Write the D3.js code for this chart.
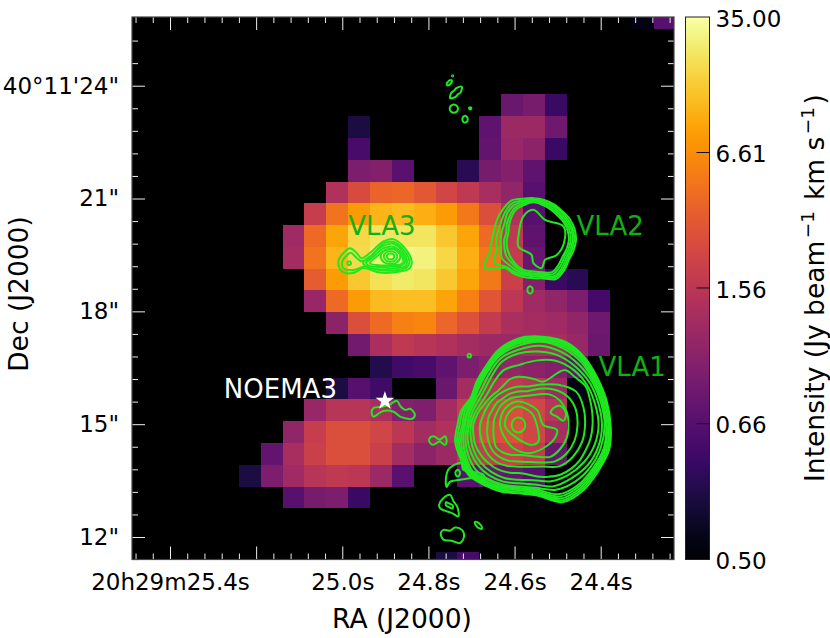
<!DOCTYPE html>
<html>
<head>
<meta charset="utf-8">
<script src="https://d3js.org/d3.v7.min.js"></script>
<style>
  body { margin: 0; background: #fff; }
  text { font-family: "DejaVu Sans", sans-serif; }
</style>
</head>
<body>
<div id="chart"></div>
<script>
// Moment map, Jy/beam km/s, per map row. Each row starts at the column in rowStart, 0 = below the colour floor
var row00 = [0.51, 0.66];
var row04 = [0.74, 0.80, 0.585];
var row05 = [0.54, 0, 0, 0, 0, 0, 0.69, 1.09, 1.09, 0.76];
var row06 = [0.62, 0, 0, 0, 0, 0, 0.70, 1.05, 0.94, 0.585];
var row07 = [0.83, 0.88, 0.67, 0, 0, 0.56, 0.80, 0.88, 0.69];
var row08 = [1.35, 2.36, 3.54, 3.76, 2.96, 2.12, 1.63, 1.24, 0.98, 0.66];
var row09 = [1.81, 4.52, 8.0, 11.1, 11.9, 10.4, 8.0, 4.81, 2.50, 1.35, 0.66];
var row10 = [1.14, 4.0, 9.13, 17.8, 21.8, 21.8, 21.8, 14.5, 9.13, 4.0, 1.63, 0.69];
var row11 = [1.19, 4.52, 11.1, 19.0, 24.9, 28.5, 26.7, 17.8, 10.4, 4.81, 1.72, 0.72];
var row12 = [3.14, 8.0, 14.5, 20.3, 23.3, 21.8, 14.5, 9.13, 4.81, 1.90, 0.88, 0.59, 0.56];
var row13 = [1.05, 4.0, 8.0, 11.9, 12.7, 12.7, 9.13, 5.47, 2.80, 1.56, 1.14, 0.98, 0.83, 0.61];
var row14 = [0.94, 2.50, 4.0, 5.47, 5.85, 3.76, 2.64, 1.72, 1.29, 1.19, 1.14, 0.98, 0.76];
var row15 = [0.78, 1.29, 1.63, 1.48, 1.35, 1.19, 1.09, 1.09, 1.24, 1.24, 1.05, 0.74];
var row16 = [0.55, 0.60, 0.62, 0.69, 0.83, 0.94, 1.01, 0.94, 0.88, 0.70];
var row17 = [0.54, 0.66, 0.60, 0, 0, 0.74, 1.19, 1.48, 1.63, 1.48, 1.14, 0.51];
var row18 = [1.05, 1.48, 1.48, 1.29, 0.88, 0.85, 1.19, 1.81, 2.12, 2.50, 2.12, 1.48];
var row19 = [0.98, 1.81, 2.50, 2.50, 2.12, 1.56, 1.19, 1.35, 1.81, 2.50, 2.64, 2.12, 1.24];
var row20 = [0.70, 1.24, 1.90, 2.50, 2.50, 1.90, 1.19, 0.94, 1.09, 1.48, 1.81, 2.0, 1.72, 0.74];
var row21 = [0.54, 0.83, 1.14, 1.48, 1.63, 1.56, 1.09, 0.67, 0, 0, 0.67, 0.74, 0.72, 0.66];
var row22 = [0.66, 0.80, 0.83, 0.585];
var row25 = [0.54, 0.62];
var mapRows = [row00, [], [], [], row04, row05, row06, row07, row08, row09, row10, row11, row12,
  row13, row14, row15, row16, row17, row18, row19, row20, row21, row22, [], [], row25];
var rowStart = [23, 0, 0, 0, 17, 10, 10, 10, 9, 8, 7, 7, 8, 8, 9, 10, 11, 9, 8, 7, 6, 5, 7, 0, 0, 14];

// Axis ticks
var raMajor = [25.4, 25.2, 25.0, 24.8, 24.6, 24.4];
var raLabels = ["20h29m25.4s", "", "25.0s", "24.8s", "24.6s", "24.4s"];
var decMajor = [24, 21, 18, 15, 12];
var decLabels = ["40\u00b011'24\"", "21\"", "18\"", "15\"", "12\""];
var colorTicks = [0.50, 0.66, 1.56, 6.61, 35.00];

// Contours around VLA1: radii in arcsec, evenly spaced in angle counter-clockwise from +x
var vla1Centre = [24.591, 14.98];
var vla1Ring1 = [2.45, 2.43, 2.44, 2.51, 2.54, 2.43, 2.30, 2.06, 1.77, 1.59, 1.46, 1.56, 1.62, 1.74, 1.78, 1.88, 1.84, 1.83, 1.82, 1.94, 2.37, 2.45, 2.45, 2.50];
var vla1Ring1b = [2.42, 2.40, 2.41, 2.48, 2.50, 2.39, 2.26, 2.03, 1.74, 1.56, 1.42, 1.52, 1.56, 1.69, 1.75, 1.84, 1.81, 1.79, 1.78, 1.90, 2.32, 2.40, 2.41, 2.47];
var vla1Ring2 = [2.39, 2.37, 2.37, 2.45, 2.46, 2.35, 2.22, 1.99, 1.70, 1.52, 1.38, 1.47, 1.49, 1.64, 1.71, 1.80, 1.77, 1.75, 1.73, 1.86, 2.26, 2.35, 2.37, 2.43];
var vla1Ring2b = [2.35, 2.33, 2.33, 2.41, 2.41, 2.32, 2.17, 1.95, 1.67, 1.49, 1.37, 1.41, 1.45, 1.58, 1.67, 1.77, 1.73, 1.71, 1.69, 1.82, 2.20, 2.30, 2.33, 2.39];
var vla1Ring3 = [2.33, 2.31, 2.31, 2.36, 2.36, 2.29, 2.11, 1.91, 1.64, 1.46, 1.36, 1.38, 1.42, 1.52, 1.62, 1.73, 1.68, 1.67, 1.68, 1.77, 2.13, 2.25, 2.29, 2.35];
var vla1Ring4 = [2.29, 2.27, 2.27, 2.27, 2.25, 2.18, 2.00, 1.83, 1.56, 1.37, 1.31, 1.33, 1.36, 1.46, 1.55, 1.64, 1.65, 1.64, 1.64, 1.73, 1.99, 2.13, 2.22, 2.27];
var vla1Ring5 = [2.22, 2.20, 2.20, 2.17, 2.13, 2.02, 1.90, 1.73, 1.46, 1.29, 1.24, 1.27, 1.31, 1.40, 1.46, 1.52, 1.55, 1.56, 1.55, 1.64, 1.88, 2.00, 2.13, 2.20];
var vla1Ring6 = [2.13, 2.11, 2.11, 2.07, 1.97, 1.77, 1.59, 1.51, 1.31, 1.17, 1.15, 1.20, 1.26, 1.31, 1.37, 1.42, 1.44, 1.46, 1.46, 1.52, 1.73, 1.88, 2.00, 2.09];
var vla1Ring7 = [1.97, 1.99, 2.02, 2.06, 1.97, 1.91, 1.33, 1.29, 1.28, 1.28, 1.24, 1.13, 1.06, 1.05, 1.05, 1.06, 1.11, 1.15, 1.20, 1.22, 1.25, 1.27, 1.28, 1.29, 1.30, 1.30, 1.29, 1.28, 1.33, 1.46, 1.59, 1.73, 1.82, 1.88, 1.91, 1.95];
var vla1Ring8 = [1.77, 1.79, 1.77, 1.51, 1.24, 1.06, 1.02, 0.99, 0.97, 0.96, 0.96, 0.97, 1.02, 1.05, 1.08, 1.13, 1.15, 1.13, 1.11, 1.15, 1.28, 1.55, 1.68, 1.75];
var vla1Ring9 = [1.57, 1.58, 1.51, 1.33, 1.11, 0.93, 0.89, 0.86, 0.82, 0.82, 0.80, 0.82, 0.82, 0.86, 0.91, 0.97, 0.99, 0.99, 0.97, 1.02, 1.15, 1.37, 1.49, 1.55];
var vla1Ring10 = [1.33, 1.33, 1.28, 1.15, 0.93, 0.80, 0.75, 0.74, 0.71, 0.69, 0.66, 0.66, 0.66, 0.69, 0.75, 0.84, 0.84, 0.82, 0.80, 0.84, 0.97, 1.20, 1.28, 1.33];
var vla1Peak = [0.18, 0.19, 0.20, 0.19, 0.18, 0.19, 0.20, 0.19];

// Contours around VLA2
var vla2Centre = [24.556, 19.90];
var vla2Ring1 = [1.13, 1.13, 1.11, 1.08, 1.09, 1.10, 1.11, 1.13, 1.20, 1.15, 1.11, 1.08, 1.11, 1.20, 1.51, 1.06, 1.04, 1.02, 1.02, 1.06, 1.20, 1.15, 1.08, 1.10];
var vla2Ring2 = [1.08, 1.08, 1.06, 1.05, 1.05, 1.06, 1.08, 1.08, 1.13, 1.06, 0.99, 0.97, 0.99, 1.02, 1.20, 1.02, 0.99, 0.97, 0.97, 1.02, 1.15, 1.11, 1.04, 1.05];
var vla2Ring3 = [1.04, 1.04, 1.02, 1.00, 1.02, 1.03, 1.05, 1.05, 1.06, 0.99, 0.89, 0.87, 0.87, 0.89, 0.97, 0.93, 0.93, 0.93, 0.93, 0.97, 1.11, 1.06, 0.99, 1.01];
var vla2Ring4 = [0.99, 0.99, 0.97, 0.96, 0.97, 0.99, 1.03, 1.00, 0.99, 0.90, 0.82, 0.75, 0.78, 0.80, 0.84, 0.84, 0.87, 0.89, 0.89, 0.93, 1.05, 1.00, 0.94, 0.96];
var vla2Ring5 = [0.94, 0.94, 0.93, 0.91, 0.93, 0.96, 1.00, 0.96, 0.93, 0.84, 0.75, 0.69, 0.71, 0.73, 0.75, 0.78, 0.82, 0.84, 0.84, 0.89, 0.99, 0.94, 0.89, 0.91];

// Peak of VLA3
var vla3PeakCentre = [24.888, 19.46];
var vla3Peak1 = [0.10, 0.09, 0.08, 0.09, 0.10, 0.09, 0.08, 0.09];
var vla3Peak2 = [0.18, 0.16, 0.14, 0.16, 0.18, 0.16, 0.14, 0.16];
var vla3Peak3 = [0.26, 0.23, 0.20, 0.23, 0.26, 0.23, 0.20, 0.23];

// Small isolated contours: [ra, dec] then radii
var spotA = [[24.7515, 24.08], [0.06, 0.09, 0.06, 0.04, 0.06, 0.09, 0.06, 0.04]];
var spotB = [[24.736, 23.82], [0.12, 0.22, 0.11, 0.07, 0.12, 0.22, 0.11, 0.07]];
var spotC = [[24.741, 23.39], [0.11, 0.11, 0.11, 0.11, 0.11, 0.11, 0.11, 0.11]];
var spotD = [[24.703, 23.40], [0.03, 0.03, 0.03, 0.03, 0.03, 0.03, 0.03, 0.03]];
var spotE = [[24.715, 23.11], [0.07, 0.08, 0.09, 0.08, 0.07, 0.08, 0.09, 0.08]];
var spotF = [[24.744, 24.26], [0.015, 0.015, 0.015, 0.015, 0.015, 0.015, 0.015, 0.015]];
var spotG = [[24.564, 18.57], [0.07, 0.08, 0.10, 0.08, 0.07, 0.08, 0.10, 0.08]];
var spotH = [[24.705, 16.82], [0.05, 0.05, 0.05, 0.05, 0.05, 0.05, 0.05, 0.05]];
var spotI = [[24.732, 13.70], [0.06, 0.07, 0.09, 0.07, 0.06, 0.07, 0.09, 0.07]];
var spotJ = [[24.7515, 12.84], [0.09, 0.05, 0.05, 0.12, 0.09, 0.05, 0.05, 0.12]];
var spotK = [[24.684, 12.31], [0.07, 0.05, 0.07, 0.13, 0.07, 0.05, 0.07, 0.13]];
var spotL = [[24.984, 19.28], [0.05, 0.05, 0.05, 0.05, 0.05, 0.05, 0.05, 0.05]];

// Irregular contours: [ra, dec] then [dx, dy] offsets in arcsec (+x towards lower RA)
var vla1Inner1 = [[24.591, 14.98], [[0, 0.62], [0.49, 0.40], [0.66, 0], [1.02, -0.13], [0.97, -0.35], [0.66, -0.62], [0.27, -0.75], [-0.13, -0.62], [-0.40, -0.27], [-0.49, 0.04], [-0.35, 0.44]]];
var vla1Inner2 = [[24.591, 14.98], [[0, 0.49], [0.35, 0.31], [0.49, 0], [0.53, -0.44], [0.35, -0.53], [-0.04, -0.35], [-0.35, -0.04], [-0.27, 0.31]]];
var vla1Island = [[24.498, 15.29], [[-0.18, 0.09], [0.04, 0.20], [0.20, 0], [0.13, -0.20], [-0.04, -0.09], [-0.20, 0]]];
var vla2Inner = [[24.537, 19.99], [[-0.49, 0.53], [-0.22, 0.71], [0.09, 0.44], [0.58, 0.27], [0.59, -0.18], [0.40, -0.49], [0.09, -0.62], [0, -0.84], [-0.22, -0.71], [-0.27, -0.49], [-0.62, -0.27], [-0.62, 0]]];
var vla3Outer1 = [[24.928, 19.37], [[-0.93, -0.04], [-0.84, 0.13], [-0.62, 0.31], [-0.44, 0.18], [-0.31, 0.04], [-0.09, 0.18], [0.27, 0.49], [0.53, 0.55], [0.84, 0.31], [1.02, -0.04], [0.97, -0.22], [0.71, -0.31], [0.18, -0.34], [-0.27, -0.22], [-0.53, -0.35], [-0.84, -0.31]]];
var vla3Outer2 = [[24.928, 19.37], [[-0.82, -0.04], [-0.73, 0.09], [-0.60, 0.19], [-0.46, 0.07], [-0.31, -0.04], [-0.09, 0.07], [0.27, 0.43], [0.53, 0.48], [0.80, 0.27], [0.96, -0.04], [0.90, -0.19], [0.66, -0.27], [0.18, -0.28], [-0.22, -0.18], [-0.53, -0.27], [-0.80, -0.22]]];
var vla3Mid1 = [[24.928, 19.37], [[-0.27, -0.09], [-0.04, 0.13], [0.27, 0.37], [0.53, 0.43], [0.78, 0.22], [0.90, -0.04], [0.84, -0.18], [0.62, -0.22], [0.18, -0.25], [-0.18, -0.18]]];
var vla3Mid2 = [[24.928, 19.37], [[-0.19, -0.09], [-0.02, 0.07], [0.28, 0.31], [0.53, 0.35], [0.75, 0.18], [0.85, -0.04], [0.78, -0.14], [0.58, -0.18], [0.18, -0.19], [-0.11, -0.16]]];
var vla3Mid3 = [[24.928, 19.37], [[-0.09, -0.09], [0.09, 0.09], [0.31, 0.25], [0.53, 0.30], [0.73, 0.13], [0.80, -0.02], [0.73, -0.12], [0.53, -0.14], [0.18, -0.15]]];
var noemaPatch = [[24.889, 15.38], [[-0.49, -0.09], [-0.44, 0.05], [-0.18, 0.09], [0, 0.15], [0.18, 0.24], [0.28, 0.09], [0.40, 0], [0.53, 0.03], [0.66, -0.13], [0.58, -0.24], [0.40, -0.22], [0.27, -0.18], [0.09, -0.05], [-0.18, -0.03], [-0.35, -0.13], [-0.44, -0.18]]];
var bowPatch = [[24.777, 14.56], [[-0.24, 0.05], [-0.13, 0.12], [0.03, 0.03], [0.18, 0.12], [0.22, -0.02], [0.18, -0.11], [0.03, -0.02], [-0.13, -0.11], [-0.22, -0.06]]];
var tailPatch = [[24.727, 13.70], [[0.04, 0.27], [-0.18, 0.20], [-0.31, 0.09], [-0.37, -0.13], [-0.35, -0.37], [-0.27, -0.24], [0, -0.18], [0.31, -0.13], [0.53, -0.12], [0.66, -0.22], [0.62, -0.04], [0.09, 0.09]]];
var lowPatch1 = [[24.7515, 12.84], [[-0.27, 0.02], [-0.16, 0.19], [0.02, 0.28], [0.11, 0.11], [0.21, -0.03], [0.24, -0.29], [0.06, -0.20], [-0.12, -0.14], [-0.25, -0.07]]];
var lowPatch2 = [[24.746, 12.06], [[-0.29, 0.04], [-0.22, 0.13], [-0.04, 0.11], [0.09, 0.19], [0.27, 0.13], [0.33, -0.04], [0.22, -0.22], [0, -0.16], [-0.22, -0.13]]];

var rings = [
  [vla1Centre, vla1Ring1], [vla1Centre, vla1Ring1b], [vla1Centre, vla1Ring2], [vla1Centre, vla1Ring2b], [vla1Centre, vla1Ring3],
  [vla1Centre, vla1Ring4], [vla1Centre, vla1Ring5],
  [vla1Centre, vla1Ring6], [vla1Centre, vla1Ring7], [vla1Centre, vla1Ring8], [vla1Centre, vla1Ring9], [vla1Centre, vla1Ring10], [vla1Centre, vla1Peak],
  [vla2Centre, vla2Ring1], [vla2Centre, vla2Ring2], [vla2Centre, vla2Ring3], [vla2Centre, vla2Ring4], [vla2Centre, vla2Ring5],
  [vla3PeakCentre, vla3Peak1], [vla3PeakCentre, vla3Peak2], [vla3PeakCentre, vla3Peak3],
  spotA, spotB, spotC, spotD, spotE, spotF, spotG, spotH, spotI, spotJ, spotK, spotL
];
var patches = [vla1Inner1, vla1Inner2, vla1Island, vla2Inner, vla3Outer1, vla3Outer2, vla3Mid1, vla3Mid2, vla3Mid3,
  noemaPatch, bowPatch, tailPatch, lowPatch1, lowPatch2];

// Sources and labels: ra, dec, name
var sourceLabels = [
  [24.986, 20.04, "VLA3", "#12b012"],
  [24.456, 20.03, "VLA2", "#12b012"],
  [24.405, 16.29, "VLA1", "#12b012"],
  [25.275, 15.70, "NOEMA3", "#ffffff"]
];
var noemaStar = [24.901, 15.62];

// Map grid: left/top edge of the first full cell and the cell size
var gridRa0 = 25.443, gridRaStep = 0.05073;
var gridDec0 = 25.507, gridDecStep = 0.5793;
var arcsecPerSecond = 11.445;

var svgWidth = 830;
var svgHeight = 638;
var frame = { left: 132, right: 674, top: 17, bottom: 559.5 };
var bar = { left: 685.5, right: 709.5 };

var svg = d3.select("#chart")
  .append("svg")
  .attr("width", svgWidth)
  .attr("height", svgHeight)
  .style("display", "block");

// scales: RA runs right to left
var xScale = d3.scaleLinear().domain([25.4, 24.4]).range([170, 600.7]);
var yScale = d3.scaleLinear().domain([24, 12]).range([85.7, 537]);

// log stretch between 0.50 and 35
function stretch(v) {
  return Math.log(1000 * (v - 0.5) / 34.5 + 1) / Math.log(1000);
}
var barScale = d3.scaleLinear().domain([0, 1]).range([frame.bottom, frame.top]);

svg.append("clipPath").attr("id", "mapClip")
  .append("rect")
  .attr("x", frame.left).attr("y", frame.top)
  .attr("width", frame.right - frame.left).attr("height", frame.bottom - frame.top);

var plot = svg.append("g").attr("clip-path", "url(#mapClip)");

plot.append("rect")
  .attr("x", frame.left).attr("y", frame.top)
  .attr("width", frame.right - frame.left).attr("height", frame.bottom - frame.top)
  .attr("fill", "#000");

// cells
var cells = [];
mapRows.forEach(function(row, r) {
  row.forEach(function(v, i) {
    if (v > 0) cells.push({ col: rowStart[r] + i, row: r, value: v });
  });
});

plot.selectAll("rect.cell")
  .data(cells)
  .enter()
  .append("rect")
  .attr("class", "cell")
  .attr("x", d => xScale(gridRa0 - (d.col - 1) * gridRaStep))
  .attr("y", d => yScale(gridDec0 - (d.row - 1) * gridDecStep))
  .attr("width", xScale(gridRa0 - gridRaStep) - xScale(gridRa0))
  .attr("height", yScale(gridDec0 - gridDecStep) - yScale(gridDec0))
  .attr("shape-rendering", "crispEdges")
  .attr("fill", d => d3.interpolateInferno(stretch(d.value)));

// contours
var contourLine = d3.line()
  .x(d => xScale(d[0]))
  .y(d => yScale(d[1]))
  .curve(d3.curveCatmullRomClosed.alpha(0.5));

function ringPoints(ring) {
  var c = ring[0], radii = ring[1];
  return radii.map(function(r, i) {
    var a = 2 * Math.PI * i / radii.length;
    return [c[0] - r * Math.cos(a) / arcsecPerSecond, c[1] + r * Math.sin(a)];
  });
}

function patchPoints(patch) {
  var c = patch[0];
  return patch[1].map(d => [c[0] - d[0] / arcsecPerSecond, c[1] + d[1]]);
}

plot.selectAll("path.ring")
  .data(rings.map(ringPoints).concat(patches.map(patchPoints)))
  .enter()
  .append("path")
  .attr("class", "ring")
  .attr("d", contourLine)
  .attr("fill", "none")
  .attr("stroke", "#1fe81f")
  .attr("stroke-width", 2);

// labels
plot.selectAll("text.source")
  .data(sourceLabels)
  .enter()
  .append("text")
  .attr("class", "source")
  .attr("x", d => xScale(d[0]))
  .attr("y", d => yScale(d[1]))
  .attr("font-size", 26)
  .attr("fill", d => d[3])
  .text(d => d[2]);

plot.append("path")
  .attr("d", d3.symbol().type(d3.symbolStar).size(110))
  .attr("transform", `translate(${xScale(noemaStar[0])}, ${yScale(noemaStar[1])})`)
  .attr("fill", "#fff");

// axes, ticks point into the map
var raMinor = d3.range(25.48, 24.23, -0.04).filter(d => !raMajor.some(m => Math.abs(m - d) < 0.001));
var decMinor = d3.range(11.4, 25.3, 0.6).filter(d => !decMajor.some(m => Math.abs(m - d) < 0.001));

function styleAxis(g) {
  g.select(".domain").remove();
  g.selectAll(".tick line").attr("stroke", "#eee").attr("stroke-width", 1);
  g.selectAll(".tick text").attr("fill", "#000").attr("font-size", 23)
    .style("font-family", '"DejaVu Sans", sans-serif');
}

function addAxis(maker, scale, translate, major, labels, minor, padding) {
  var majorAxis = maker(scale).tickValues(major).tickSize(-13).tickPadding(padding)
    .tickFormat((d, i) => labels ? labels[i] : "");
  var minorAxis = maker(scale).tickValues(minor).tickSize(-6).tickFormat("");
  svg.append("g").attr("transform", translate).call(minorAxis).call(styleAxis);
  svg.append("g").attr("transform", translate).call(majorAxis).call(styleAxis);
}

addAxis(d3.axisBottom, xScale, `translate(0, ${frame.bottom})`, raMajor, raLabels, raMinor, 14);
addAxis(d3.axisTop, xScale, `translate(0, ${frame.top})`, raMajor, null, raMinor, 3);
addAxis(d3.axisLeft, yScale, `translate(${frame.left}, 0)`, decMajor, decLabels, decMinor, 13);
addAxis(d3.axisRight, yScale, `translate(${frame.right}, 0)`, decMajor, null, decMinor, 3);

svg.append("rect")
  .attr("x", frame.left).attr("y", frame.top)
  .attr("width", frame.right - frame.left).attr("height", frame.bottom - frame.top)
  .attr("fill", "none")
  .attr("stroke", "#444")
  .attr("stroke-width", 1.2);

// colour bar
var gradient = svg.append("defs").append("linearGradient")
  .attr("id", "barGradient")
  .attr("x1", 0).attr("x2", 0).attr("y1", 1).attr("y2", 0);
gradient.selectAll("stop")
  .data(d3.range(0, 1.001, 0.02))
  .enter()
  .append("stop")
  .attr("offset", d => d)
  .attr("stop-color", d => d3.interpolateInferno(d));

svg.append("rect")
  .attr("x", bar.left).attr("y", frame.top)
  .attr("width", bar.right - bar.left).attr("height", frame.bottom - frame.top)
  .attr("fill", "url(#barGradient)")
  .attr("stroke", "#222")
  .attr("stroke-width", 1);

svg.selectAll("line.barTick")
  .data(colorTicks.slice(1, 4))
  .enter()
  .append("line")
  .attr("class", "barTick")
  .attr("x1", bar.right - 13).attr("x2", bar.right)
  .attr("y1", d => barScale(stretch(d)))
  .attr("y2", d => barScale(stretch(d)))
  .attr("stroke", "#111");

svg.selectAll("text.barLabel")
  .data(colorTicks)
  .enter()
  .append("text")
  .attr("class", "barLabel")
  .attr("x", bar.right + 6)
  .attr("y", d => barScale(stretch(d)))
  .attr("dy", "0.42em")
  .attr("font-size", 23)
  .text(d => d.toFixed(2));

// axis titles
svg.append("text")
  .attr("x", 402).attr("y", 628)
  .attr("text-anchor", "middle")
  .attr("font-size", 26.5)
  .text("RA (J2000)");

svg.append("text")
  .attr("transform", "translate(28, 294) rotate(-90)")
  .attr("text-anchor", "middle")
  .attr("font-size", 26.5)
  .text("Dec (J2000)");

var barTitle = svg.append("text")
  .attr("transform", "translate(824, 288) rotate(-90)")
  .attr("text-anchor", "middle")
  .attr("font-size", 26.5);
barTitle.append("tspan").text("Intensity (Jy beam");
barTitle.append("tspan").attr("dx", 2.5).attr("dy", -10).attr("font-size", 18.5).text("\u22121");
barTitle.append("tspan").attr("dx", 2.5).attr("dy", 10).text(" km s");
barTitle.append("tspan").attr("dx", 2.5).attr("dy", -10).attr("font-size", 18.5).text("\u22121");
barTitle.append("tspan").attr("dx", 2.5).attr("dy", 10).text(")");
</script>
</body>
</html>
